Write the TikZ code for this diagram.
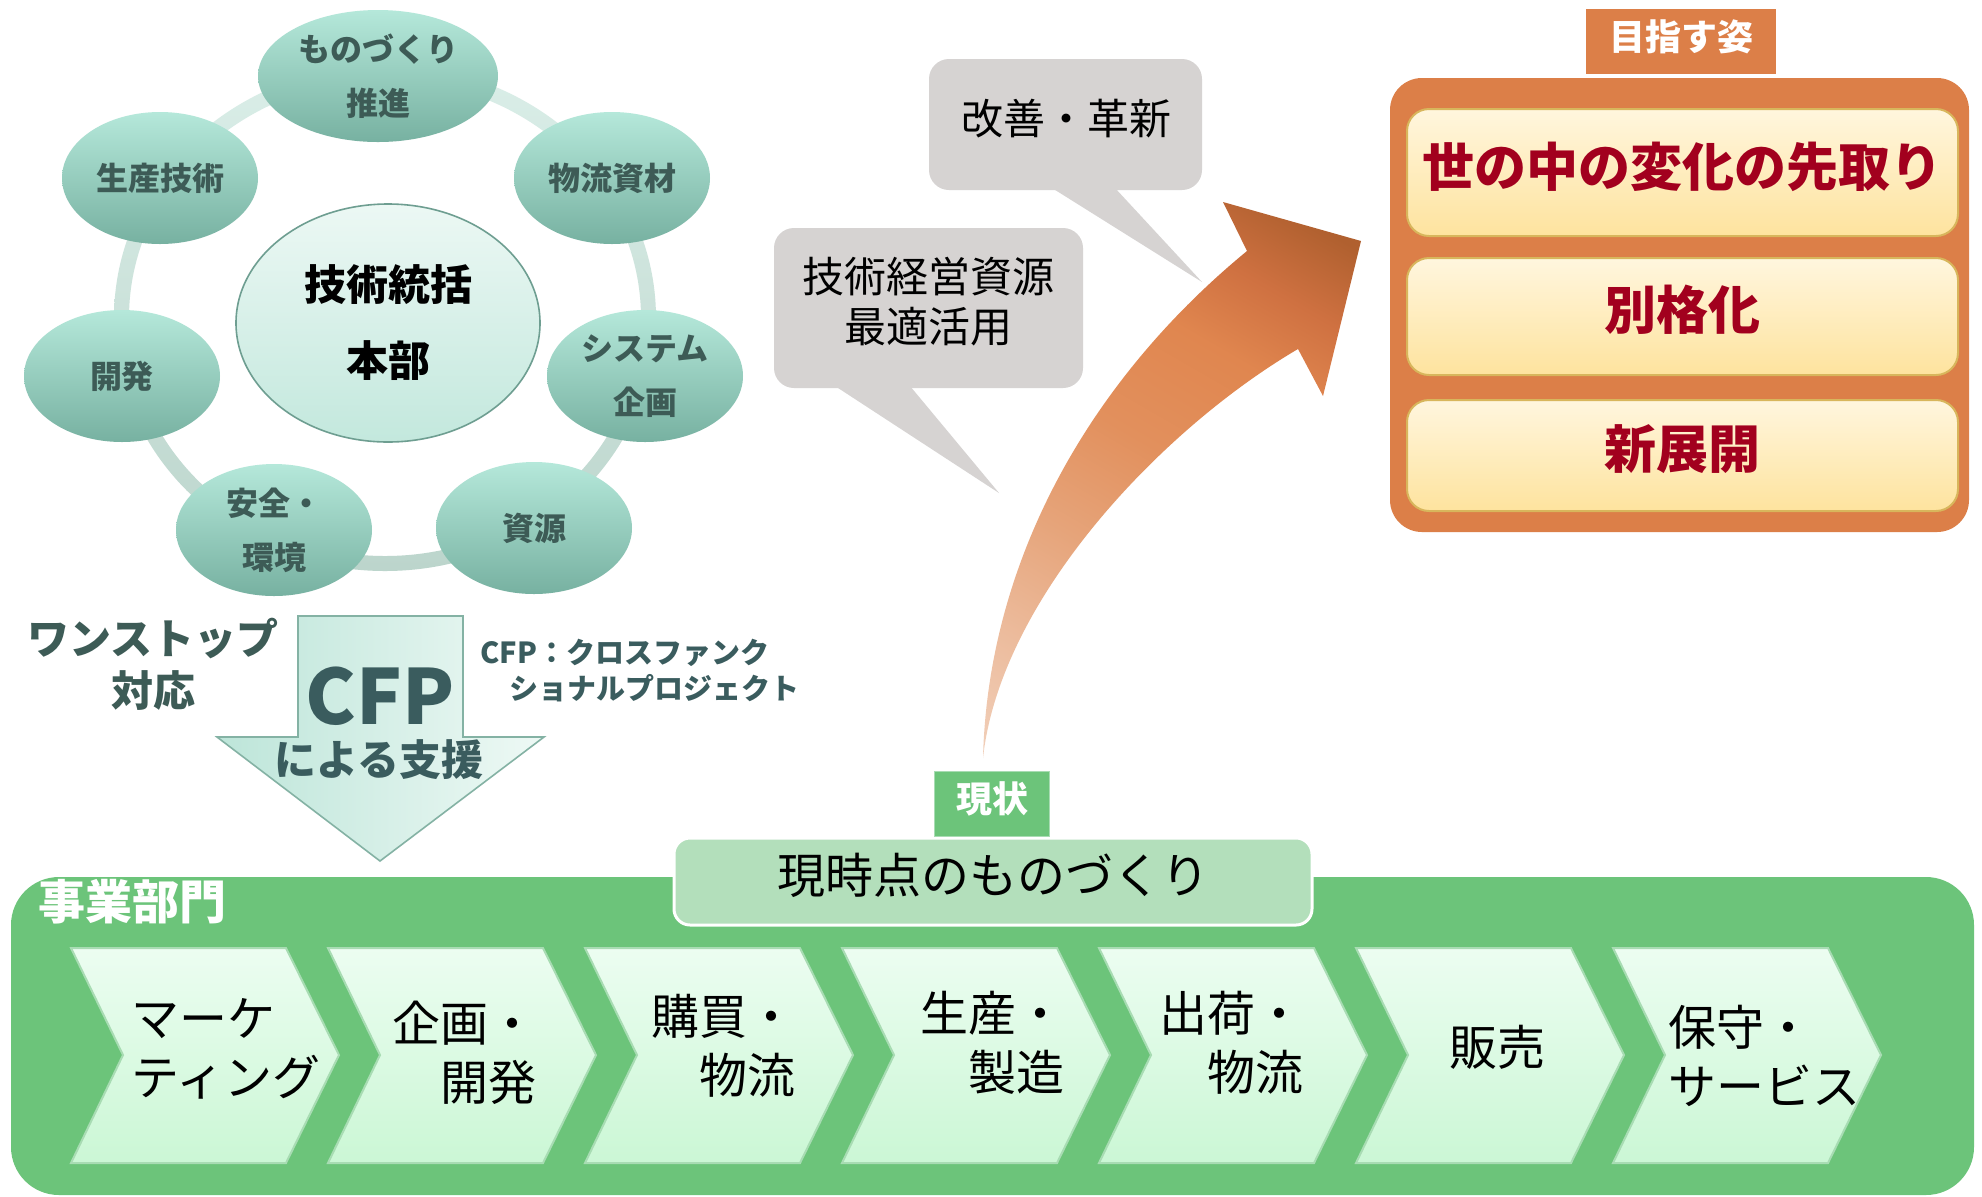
\documentclass[tikz,border=0pt]{standalone}
\usepackage{fontspec}
\setmainfont{Noto Sans CJK JP}
\usetikzlibrary{shapes.geometric}
\definecolor{ringT}{HTML}{DAEEE8}
\definecolor{ringB}{HTML}{BCD5CC}
\definecolor{ellT}{HTML}{B5E8DA}
\definecolor{ellB}{HTML}{77B1A1}
\definecolor{ellTxt}{HTML}{3D5B56}
\definecolor{hubT}{HTML}{ECF8F4}
\definecolor{hubB}{HTML}{C3E8DD}
\definecolor{hubD}{HTML}{6E9E91}
\definecolor{cfpL}{HTML}{BDE5D9}
\definecolor{cfpR}{HTML}{EEF9F5}
\definecolor{cfpD}{HTML}{84B2A4}
\definecolor{cfpTxt}{HTML}{3A5C5E}
\definecolor{bubC}{HTML}{D6D3D2}
\definecolor{arA}{HTML}{F2D3BF}
\definecolor{arB}{HTML}{F1CFB9}
\definecolor{arC}{HTML}{ECBB9C}
\definecolor{arD}{HTML}{E6A47A}
\definecolor{arE}{HTML}{E2905D}
\definecolor{arF}{HTML}{E0864F}
\definecolor{arG}{HTML}{CF7141}
\definecolor{arH}{HTML}{B0602F}
\definecolor{arI}{HTML}{A85829}
\definecolor{orC}{HTML}{DC7F48}
\definecolor{inT}{HTML}{FFF6DE}
\definecolor{inB}{HTML}{FEE39E}
\definecolor{inD}{HTML}{D8B65C}
\definecolor{redT}{HTML}{A2001E}
\definecolor{grC}{HTML}{6CC47A}
\definecolor{nowC}{HTML}{B3DFBB}
\definecolor{chT}{HTML}{ECFDF1}
\definecolor{chB}{HTML}{CBF7D5}
\definecolor{chD}{HTML}{A8DCB3}
\pgfdeclareverticalshading{arrowsh}{100bp}{color(0bp)=(arA); color(16bp)=(arB); color(28bp)=(arC); color(40bp)=(arD); color(52bp)=(arE); color(64bp)=(arF); color(72bp)=(arG); color(80bp)=(arH); color(100bp)=(arI)}
\begin{document}
\begin{tikzpicture}[x=0.5pt,y=-0.5pt,
  dept/.style={ellipse, top color=ellT, bottom color=ellB, draw=none, text=ellTxt,
    font=\bfseries\fontsize{16}{27}\selectfont, align=center, inner sep=0pt,
    minimum width=98pt, minimum height=66pt},
  hub/.style={ellipse, top color=hubT, bottom color=hubB, draw=hubD, line width=0.8pt,
    font=\bfseries\fontsize{21}{38}\selectfont, align=center, inner sep=0pt,
    minimum width=152pt, minimum height=119pt},
  bubble/.style={fill=bubC, rounded corners=10pt},
  bubtext/.style={font=\fontsize{21}{25}\selectfont, align=center, inner sep=0pt},
  cfptext/.style={text=cfpTxt, inner sep=0pt, align=center},
  chev/.style={top color=chT, bottom color=chB, draw=chD, line width=1pt},
  chevtext/.style={font=\fontsize{24}{29.5}\selectfont, align=left, inner sep=0pt},
  goalbox/.style={top color=inT, bottom color=inB, draw=inD, line width=1pt,
    rounded corners=11pt, minimum width=275.5pt},
  goaltext/.style={text=redT, inner sep=0pt, font=\bfseries\fontsize{26}{26}\selectfont},
  tagbox/.style={minimum height=32.5pt, inner sep=0pt},
  tagtext/.style={text=white, inner sep=0pt, font=\bfseries\fontsize{18}{18}\selectfont}
]
\useasboundingbox (0,0) rectangle (1982,1196);
\fill[white] (0,0) rectangle (1982,1196);

% ring
\shade[even odd rule, top color=ringT, bottom color=ringB]
  (385,318) ellipse [x radius=271, y radius=253]
  (385,318) ellipse [x radius=256, y radius=238];

% departments
\node[dept, minimum width=120pt] (mono) at (378,76) {ものづくり\\推進};
\node[dept] (seisan) at (160,178) {生産技術};
\node[dept] (butsu) at (612,178) {物流資材};
\node[dept] (kaihatsu) at (122,376) {開発};
\node[dept] (system) at (645,376) {システム\\企画};
\node[dept] (anzen) at (274,530) {安全・\\環境};
\node[dept] (shigen) at (534,528) {資源};
\node[hub] (hub) at (388,323) {技術統括\\本部};

% CFP arrow
\draw[left color=cfpL, right color=cfpR, draw=cfpD, line width=0.8pt]
  (298,616) -- (463,616) -- (463,737) -- (544,737) -- (380,861) -- (217,737) -- (298,737) -- cycle;
\node[cfptext, font=\bfseries\fontsize{38}{38}\selectfont] (cfp) at (380,696) {CFP};
\node[cfptext, font=\bfseries\fontsize{21}{21}\selectfont] (cfpsub) at (379,760) {による支援};
\node[cfptext, text=ellTxt, font=\bfseries\fontsize{21}{26}\selectfont] (onestop) at (153,664) {ワンストップ\\対応};
\node[cfptext, anchor=west, align=left, font=\bfseries\fontsize{14.5}{18}\selectfont] (cfpnote) at (480,671)
  {CFP：クロスファンク\\\hspace*{1em}ショナルプロジェクト};

% speech bubbles
\fill[bubble] (929,59) rectangle (1202,190);
\fill[bubC] (1052,188) -- (1202,282) -- (1115,188) -- cycle;
\node[bubtext] (kaizen) at (1066,119) {改善・革新};
\fill[bubble] (774,228) rectangle (1083,388);
\fill[bubC] (835,386) -- (999,493) -- (910,386) -- cycle;
\node[bubtext] (keiei) at (928,302) {技術経営資源\\最適活用};

% big curved arrow
\shade[shading=arrowsh, shading angle=-30]
  (983,758) .. controls (988,560) and (1090,380) .. (1247,251)
  -- (1223,202) -- (1361,241) -- (1323,396) -- (1298,349)
  .. controls (1160,430) and (1000,600) .. (983,758) -- cycle;

% goal panel
\node[tagbox, fill=orC, minimum width=95pt] (goaltag) at (1681,41.5) {};
\node[tagtext] (goaltagt) at ([yshift=2.5pt]goaltag.center) {目指す姿};
\node[fill=orC, rounded corners=16pt, minimum width=289.5pt, minimum height=227pt] (goalpanel) at (1679.5,305) {};
\node[goalbox, minimum height=63.5pt] (g1) at (1682.5,172.5) {};
\node[goaltext] (g1t) at ([yshift=3pt]g1.center) {世の中の変化の先取り};
\node[goalbox, minimum height=58.5pt] (g2) at (1682.5,316.5) {};
\node[goaltext] (g2t) at ([yshift=3.5pt]g2.center) {別格化};
\node[goalbox, minimum height=55.5pt] (g3) at (1682.5,455.5) {};
\node[goaltext] (g3t) at ([yshift=3pt]g3.center) {新展開};

% business panel
\node[fill=grC, rounded corners=24pt, minimum width=981.5pt, minimum height=159pt, inner sep=0pt] (biz) at (992.5,1036) {};
\node[anchor=west, inner sep=0pt, text=white, font=\bfseries\fontsize{23.5}{24}\selectfont] (jigyo) at (38,902) {事業部門};
\node[fill=nowC, draw=white, line width=1.5pt, rounded corners=8pt, minimum width=319pt, minimum height=43.5pt] (now) at (993,881.5) {};
\node[inner sep=0pt, font=\fontsize{24}{24}\selectfont] (nowt) at ([yshift=3pt]now.center) {現時点のものづくり};
\node[tagbox, fill=grC, draw=chD, line width=0.6pt, minimum width=57.5pt] (genjo) at (992,804) {};
\node[tagtext] (genjot) at ([yshift=2.5pt]genjo.center) {現状};

% chevrons
\foreach \L in {71,328,585,842,1099,1356,1613}{
  \draw[chev] (\L,948) -- ++(215,0) -- ++(53,107) -- ++(-53,108) -- ++(-215,0) -- ++(52,-108) -- cycle;
}
\node[chevtext, anchor=west] (c1) at (131,1049) {マーケ\\ティング};
\node[chevtext, anchor=west] (c2) at (392,1053) {企画・\\\hspace*{1em}開発};
\node[chevtext, anchor=west] (c3) at (651,1046) {購買・\\\hspace*{1em}物流};
\node[chevtext, anchor=west] (c4) at (920,1043) {生産・\\\hspace*{1em}製造};
\node[chevtext, anchor=west] (c5) at (1159,1043) {出荷・\\\hspace*{1em}物流};
\node[chevtext] (c6) at (1497,1047) {販売};
\node[chevtext, anchor=west] (c7) at (1668,1056) {保守・\\サービス};
\end{tikzpicture}
\end{document}
